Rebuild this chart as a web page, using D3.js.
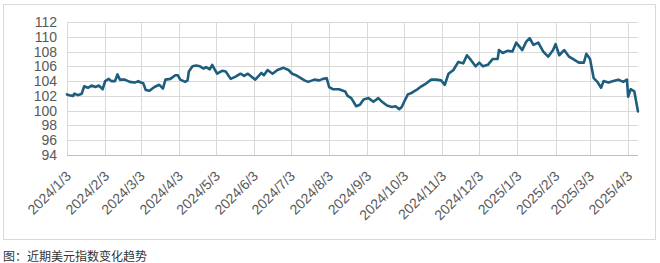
<!DOCTYPE html>
<html>
<head>
<meta charset="utf-8">
<script src="https://cdn.jsdelivr.net/npm/d3@7"></script>
<style>
  body { margin: 0; background: #fff; }
  svg { display: block; }
</style>
</head>
<body>
<div id="chart"></div>
<script>
// dollar index
const dates = [
  "2024-01-03","2024-01-05","2024-01-08","2024-01-09","2024-01-12","2024-01-15","2024-01-17","2024-01-20",
  "2024-01-23","2024-01-26","2024-01-29","2024-02-01","2024-02-03","2024-02-06","2024-02-08","2024-02-11",
  "2024-02-13","2024-02-15","2024-02-19","2024-02-23","2024-02-27","2024-03-01","2024-03-03","2024-03-05",
  "2024-03-07","2024-03-10","2024-03-14","2024-03-18","2024-03-21","2024-03-23","2024-03-27","2024-03-31",
  "2024-04-02","2024-04-04","2024-04-08","2024-04-10","2024-04-11","2024-04-14","2024-04-17","2024-04-20",
  "2024-04-23","2024-04-25","2024-04-28","2024-04-30","2024-05-02","2024-05-04","2024-05-08","2024-05-11",
  "2024-05-15","2024-05-19","2024-05-23","2024-05-26","2024-05-29","2024-06-01","2024-06-04","2024-06-09",
  "2024-06-11","2024-06-14","2024-06-18","2024-06-22","2024-06-27","2024-07-01","2024-07-04","2024-07-07",
  "2024-07-11","2024-07-14","2024-07-17","2024-07-22","2024-07-26","2024-07-29","2024-08-01","2024-08-03",
  "2024-08-06","2024-08-11","2024-08-16","2024-08-18","2024-08-21","2024-08-25","2024-08-28","2024-08-31",
  "2024-09-04","2024-09-08","2024-09-12","2024-09-15","2024-09-19","2024-09-23","2024-09-26","2024-09-29",
  "2024-10-01","2024-10-03","2024-10-06","2024-10-09","2024-10-13","2024-10-17","2024-10-21","2024-10-25",
  "2024-10-29","2024-11-02","2024-11-05","2024-11-08","2024-11-12","2024-11-16","2024-11-20","2024-11-23",
  "2024-11-26","2024-11-30","2024-12-03","2024-12-06","2024-12-10","2024-12-14","2024-12-18","2024-12-19",
  "2024-12-22","2024-12-26","2024-12-30","2025-01-02","2025-01-07","2025-01-10","2025-01-13","2025-01-16",
  "2025-01-20","2025-01-24","2025-01-28","2025-02-01","2025-02-03","2025-02-06","2025-02-10","2025-02-14",
  "2025-02-18","2025-02-22","2025-02-26","2025-02-28","2025-03-03","2025-03-06","2025-03-09","2025-03-12",
  "2025-03-14","2025-03-18","2025-03-22","2025-03-26","2025-03-30","2025-04-02","2025-04-03","2025-04-05",
  "2025-04-08","2025-04-11"
];
const dxy = [
  102.2,102.1,102.0,102.3,102.1,102.3,103.3,103.1,
  103.4,103.2,103.4,102.9,104.0,104.3,104.0,104.0,
  104.9,104.2,104.2,103.9,103.8,104.0,103.8,103.7,
  102.8,102.7,103.2,103.5,103.0,104.2,104.3,104.8,
  104.8,104.2,103.9,104.1,105.3,106.0,106.1,106.0,
  105.7,105.9,105.6,106.2,105.6,105.0,105.4,105.3,
  104.3,104.6,105.0,104.7,105.0,104.6,104.2,105.1,
  104.8,105.5,105.0,105.5,105.8,105.5,105.0,104.8,
  104.4,104.1,103.9,104.2,104.1,104.3,104.4,103.2,
  102.9,102.9,102.6,102.0,101.7,100.6,100.8,101.5,
  101.7,101.2,101.7,101.2,100.7,100.5,100.6,100.2,
  100.5,101.2,102.2,102.4,102.8,103.3,103.7,104.2,
  104.2,104.1,103.5,105.0,105.5,106.6,106.4,107.5,
  106.9,106.0,106.5,106.0,106.2,107.0,107.0,108.2,
  107.8,108.1,108.0,109.2,108.2,109.3,109.8,108.9,
  109.2,108.0,107.3,108.2,109.0,107.5,108.2,107.3,
  106.9,106.5,106.5,107.7,107.0,104.4,103.9,103.1,
  104.0,103.8,104.0,104.2,103.9,104.2,101.9,102.9,
  102.6,99.9
];
const yTicks = [94, 96, 98, 100, 102, 104, 106, 108, 110, 112];
const monthTicks = [
  "2024-01-03","2024-02-03","2024-03-03","2024-04-03","2024-05-03","2024-06-03","2024-07-03","2024-08-03",
  "2024-09-03","2024-10-03","2024-11-03","2024-12-03","2025-01-03","2025-02-03","2025-03-03","2025-04-03"
];
const caption = "图：近期美元指数变化趋势";

const W = 660, H = 263;
const margin = { top: 22, right: 22, bottom: 108, left: 67 };
const width = W - margin.left - margin.right;
const height = H - margin.top - margin.bottom;

const parse = d3.timeParse("%Y-%m-%d");
const fmt = d3.timeFormat("%Y/%-m/%-d");
const data = dates.map((d, i) => ({ date: parse(d), value: dxy[i] }));

const x = d3.scaleTime()
  .domain([parse("2024-01-03"), parse("2025-04-11")])
  .range([0, width]);
const y = d3.scaleLinear()
  .domain([94, 112])
  .range([height, 0]);

const svg = d3.select("#chart").append("svg")
  .attr("width", W)
  .attr("height", H);

// outer frame
svg.append("rect")
  .attr("x", 3.5).attr("y", 4.5)
  .attr("width", 652).attr("height", 235)
  .attr("fill", "none")
  .attr("stroke", "#d9d9d9");

const g = svg.append("g")
  .attr("transform", `translate(${margin.left},${margin.top})`);

// horizontal grid
g.append("g")
  .selectAll("line")
  .data(yTicks)
  .join("line")
  .attr("x1", 0).attr("x2", width)
  .attr("y1", d => Math.round(y(d)) + 0.5)
  .attr("y2", d => Math.round(y(d)) + 0.5)
  .attr("stroke", d => d === 94 ? "#bfbfbf" : "#d9d9d9");

// vertical grid at month ticks
g.append("g")
  .selectAll("line")
  .data(monthTicks.map(parse))
  .join("line")
  .attr("x1", d => Math.round(x(d)) + 0.5)
  .attr("x2", d => Math.round(x(d)) + 0.5)
  .attr("y1", 0).attr("y2", height)
  .attr("stroke", "#d9d9d9");

// y labels
g.append("g")
  .selectAll("text")
  .data(yTicks)
  .join("text")
  .attr("x", -10)
  .attr("y", d => y(d))
  .attr("dy", "0.36em")
  .attr("text-anchor", "end")
  .style("font-family", "'Liberation Sans', Arial, sans-serif")
  .style("font-size", "14px")
  .attr("fill", "#595959")
  .text(d => d);

// x labels, rotated
g.append("g")
  .selectAll("text")
  .data(monthTicks.map(parse))
  .join("text")
  .attr("transform", d => `translate(${x(d) + 5},${height + 22}) rotate(-45)`)
  .attr("text-anchor", "end")
  .style("font-family", "'Liberation Sans', Arial, sans-serif")
  .style("font-size", "14px")
  .attr("fill", "#595959")
  .text(d => fmt(d));

// the line
const line = d3.line()
  .x(d => x(d.date))
  .y(d => y(d.value));

g.append("path")
  .datum(data)
  .attr("fill", "none")
  .attr("stroke", "#1d5d7e")
  .attr("stroke-width", 2.6)
  .attr("stroke-linejoin", "round")
  .attr("stroke-linecap", "round")
  .attr("d", line);

// caption below the frame
svg.append("text")
  .attr("x", 3)
  .attr("y", 261)
  .style("font-family", "'Noto Sans CJK SC', sans-serif")
  .style("font-size", "12px")
  .attr("fill", "#333")
  .text(caption);
</script>
</body>
</html>
